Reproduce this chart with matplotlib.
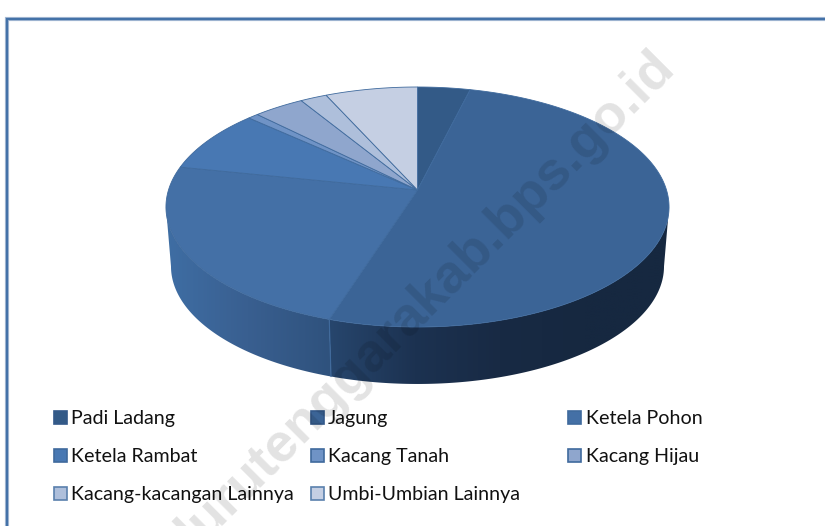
import numpy as np
import matplotlib
matplotlib.use("Agg")
import matplotlib.pyplot as plt
from matplotlib.patches import Polygon, Rectangle

categories = ["Padi Ladang", "Jagung", "Ketela Pohon", "Ketela Rambat", "Kacang Tanah",
              "Kacang Hijau", "Kacang-kacangan Lainnya", "Umbi-Umbian Lainnya"]
values = [3.87, 51.1, 23.25, 8.5, 0.78, 3.75, 1.97, 6.8]
slice_colors = ["#335a87", "#3b6496", "#4470a6", "#4878b3", "#6f93c6", "#8fa6cd", "#aebfdb", "#c5cfe3"]
legend_edges = ["#33598a", "#33598a", "#3f6a9d", "#3f6a9d", "#3f6a9d", "#3f6a9d", "#5a80ad", "#5a80ad"]
watermark = "lurutenggarakab.bps.go.id"

W, H = 825, 526
CX, CY, A, C, R = 417.5, 190.0, 117.6, 0.1417, 249.0
BOT_S, BOT_CY = 0.98, 249.7
THETA_WIDE = np.degrees(np.arccos(-C))  # angle of the widest point of the projected disk

plt.rcParams["font.family"] = ["Lato", "DejaVu Sans"]
fig = plt.figure(figsize=(W / 100, H / 100), dpi=100)
ax = fig.add_axes([0, 0, 1, 1])
ax.set_xlim(0, W)
ax.set_ylim(H, 0)
ax.axis("off")


def top(theta):
    u, v = np.sin(np.radians(theta)), np.cos(np.radians(theta))
    d = 1 + C * v
    return CX + R * u / d, CY - A * v / d


def bottom(theta):
    x, y = top(theta)
    return CX + BOT_S * (x - CX), BOT_CY + BOT_S * (y - CY)


edges = np.concatenate([[0], np.cumsum(values)]) * 360 / sum(values)

# frame
ax.plot([6.5, 6.5, W], [H, 18.5, 18.5], color="#a9bcd6", lw=3.0, solid_joinstyle="miter", zorder=1)
ax.plot([6.5, 6.5, W], [H, 18.5, 18.5], color="#4472a8", lw=1.6, solid_joinstyle="miter", zorder=1.1)


def side(t0, t1, x0, x1, stops):
    t = np.linspace(t0, t1, 160)
    tx, ty = top(t)
    bx, by = bottom(t[::-1])
    poly = Polygon(np.column_stack([np.r_[tx, bx], np.r_[ty, by]]), closed=True,
                   fc="none", ec="none", transform=ax.transData)
    ax.add_patch(poly)
    cmap = matplotlib.colors.LinearSegmentedColormap.from_list("s", stops)
    im = ax.imshow(np.linspace(0, 1, 256)[None, :], extent=[x0, x1, 400, 190], cmap=cmap,
                   aspect="auto", zorder=2, interpolation="bilinear")
    im.set_clip_path(poly)


side(THETA_WIDE, edges[2], 329, 670, ["#27466d", "#1c3251", "#182a44", "#162840", "#162840"])
side(edges[2], 360 - THETA_WIDE, 165, 331, ["#3f6ea4", "#395f90", "#2f527d"])
ax.set_xlim(0, W)
ax.set_ylim(H, 0)
sx, sy = top(edges[2])
bx2, by2 = bottom(edges[2])
ax.plot([sx, bx2], [sy, by2], color="#3f6a9d", lw=0.8, zorder=3)

# top face
for i, col in enumerate(slice_colors):
    t = np.linspace(edges[i], edges[i + 1], max(8, int(edges[i + 1] - edges[i]) * 2))
    x, y = top(t)
    xy = np.column_stack([np.r_[CX, x], np.r_[CY, y]])
    ax.add_patch(Polygon(xy, closed=True, fc=col, ec="#3f6a9d", lw=0.6, zorder=4))

# legend
col_x = [53.5, 310.5, 568]
row_y = [417.5, 455.3, 493.3]
for i, name in enumerate(categories):
    r, c = divmod(i, 3)
    ax.add_patch(Rectangle((col_x[c], row_y[r] - 6.5), 13, 13, fc=slice_colors[i],
                           ec=legend_edges[i], lw=1.2, zorder=5))
    ax.text(col_x[c] + 17.5, row_y[r] + 6.5, name, fontsize=14.15, color="#111111",
            va="baseline", ha="left", zorder=5)

ax.text(426, 299, watermark, rotation=45, rotation_mode="anchor", ha="center", va="center",
        family=["Liberation Sans"], weight="bold", fontsize=39, color="#000000", alpha=0.115, zorder=6)

fig.savefig("out.png", dpi=100)
